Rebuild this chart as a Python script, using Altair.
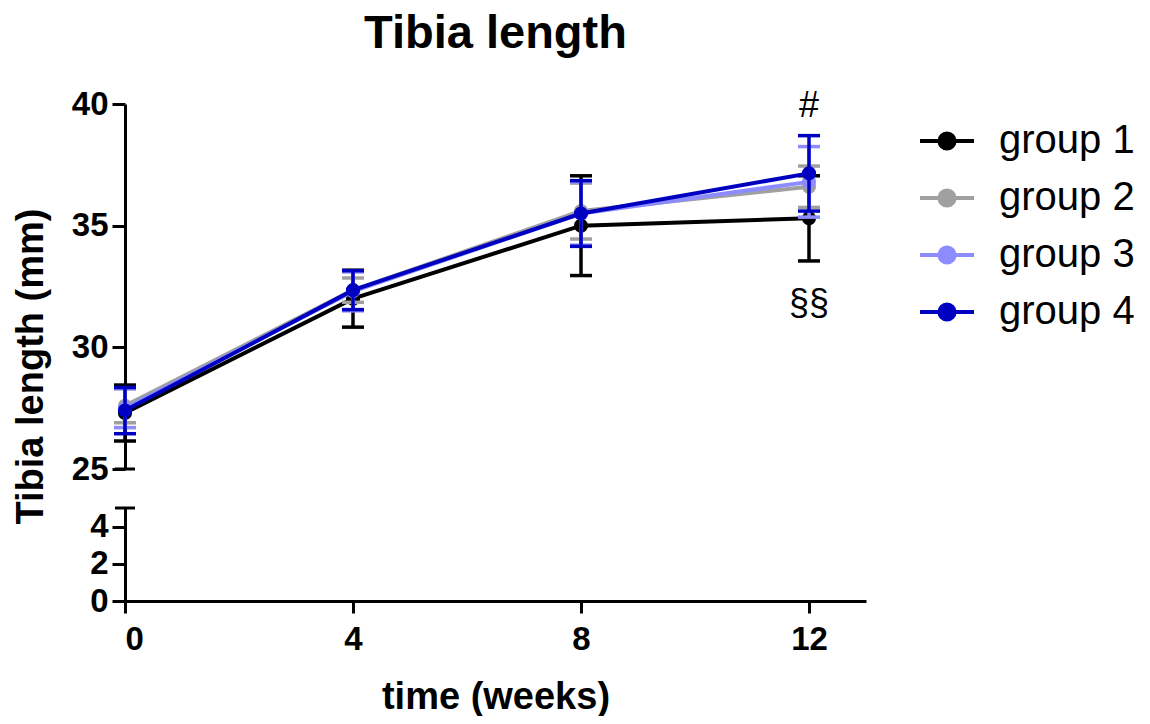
import altair as alt
import pandas as pd

# ---------------- data ----------------
weeks = [0, 4, 8, 12]
groups = ["group 1", "group 2", "group 3", "group 4"]
colors = ["#000000", "#a0a0a0", "#8c8cff", "#0000c0"]

g1_mean = [27.3, 32.0, 35.0, 35.3]
g1_sd = [1.15, 1.17, 2.05, 1.75]
g2_mean = [27.6, 32.35, 35.6, 36.6]
g2_sd = [0.7, 0.5, 1.15, 0.85]
g3_mean = [27.5, 32.3, 35.5, 36.8]
g3_sd = [0.8, 0.8, 1.3, 1.45]
g4_mean = [27.4, 32.35, 35.5, 37.15]
g4_sd = [0.95, 0.8, 1.35, 1.55]

annot_text = ["#", "§§"]
annot_week = [12, 12]
annot_value = [39.9, 31.8]

x_ticks = [0, 4, 8, 12]
x_domain = [0, 13]
y_top_ticks = [25, 30, 35, 40]
y_top_domain = [25, 40]
y_bottom_ticks = [0, 2, 4]
y_bottom_domain = [0, 5]

FONT = "Liberation Sans"

means = [g1_mean, g2_mean, g3_mean, g4_mean]
sds = [g1_sd, g2_sd, g3_sd, g4_sd]
rows = []
for gi, g in enumerate(groups):
    for w, m, s in zip(weeks, means[gi], sds[gi]):
        rows.append({"group": g, "week": w, "value": m, "lo": m - s, "hi": m + s})
df = pd.DataFrame(rows)
annot_df = pd.DataFrame({"week": annot_week, "value": annot_value, "label": annot_text})
break_top_df = pd.DataFrame({"week": [x_domain[0]], "value": [y_top_domain[0]]})
break_bot_df = pd.DataFrame({"week": [x_domain[0]], "value": [y_bottom_domain[1]]})

# ---------------- encodings ----------------
x_top = alt.X("week:Q", scale=alt.Scale(domain=x_domain, nice=False, zero=False), axis=None)

y_axis_top = alt.Axis(
    values=y_top_ticks, grid=False, domainColor="black", domainWidth=3,
    tickColor="black", tickWidth=3, tickSize=13, labelFontSize=33,
    labelFontWeight="bold", labelFont=FONT, labelColor="black", labelPadding=4,
    title="Tibia length (mm)", titleFontSize=38, titleFont=FONT,
    titleFontWeight="bold", titleColor="black", titleAngle=270,
    titleX=-94, titleY=262, titleAlign="center", titleBaseline="middle",
)
y_scale_top = alt.Scale(domain=y_top_domain, nice=False, zero=False)

legend_symbol = "M-1,0L1,0M-0.28,0A0.28,0.28,0,1,0,0.28,0A0.28,0.28,0,1,0,-0.28,0Z"
color = alt.Color(
    "group:N",
    scale=alt.Scale(domain=groups, range=colors),
    legend=alt.Legend(
        title=None, orient="none", legendX=793, legendY=8,
        symbolType=legend_symbol, symbolSize=2916, symbolStrokeWidth=4,
        symbolOpacity=1,
        labelFontSize=40, labelFont=FONT, labelColor="black", labelOffset=23,
        rowPadding=8, labelLimit=300,
    ),
)

CAP = 22
layers = []
for g in groups:
    base = alt.Chart(df).transform_filter(alt.datum.group == g)
    layers.append(base.mark_rule(strokeWidth=3.5).encode(
        x=x_top, y=alt.Y("lo:Q", scale=y_scale_top, axis=y_axis_top), y2="hi:Q", color=color))
    layers.append(base.mark_tick(orient="horizontal", size=CAP, thickness=3.5, opacity=1).encode(
        x=x_top, y=alt.Y("lo:Q", scale=y_scale_top, axis=y_axis_top), color=color))
    layers.append(base.mark_tick(orient="horizontal", size=CAP, thickness=3.5, opacity=1).encode(
        x=x_top, y=alt.Y("hi:Q", scale=y_scale_top, axis=y_axis_top), color=color))
    layers.append(base.mark_line(strokeWidth=4).encode(
        x=x_top, y=alt.Y("value:Q", scale=y_scale_top, axis=y_axis_top), color=color))
    layers.append(base.mark_circle(size=200, opacity=1).encode(
        x=x_top, y=alt.Y("value:Q", scale=y_scale_top, axis=y_axis_top), color=color))

annot = alt.Chart(annot_df).mark_text(fontSize=36, font=FONT, color="black").encode(
    x=x_top, y=alt.Y("value:Q", scale=y_scale_top, axis=y_axis_top), text="label:N")
brk_top = alt.Chart(break_top_df).mark_tick(
    orient="horizontal", size=20, thickness=3, color="black", opacity=1).encode(
    x=x_top, y=alt.Y("value:Q", scale=y_scale_top, axis=y_axis_top))

top = alt.layer(*layers, annot, brk_top).properties(
    width=741, height=365,
    title=alt.TitleParams("Tibia length", fontSize=47, fontWeight="bold", font=FONT,
                          color="black", anchor="middle", offset=30),
)

# bottom (broken) segment of the y axis, carrying the x axis
x_bot = alt.X(
    "week:Q", scale=alt.Scale(domain=x_domain, nice=False, zero=False),
    axis=alt.Axis(
        values=x_ticks, grid=False, domainColor="black", domainWidth=3,
        tickColor="black", tickWidth=3, tickSize=12, labelFontSize=33,
        labelFontWeight="bold", labelFont=FONT, labelColor="black", labelPadding=10,
        title="time (weeks)", titleFontSize=38, titleFont=FONT,
        titleFontWeight="bold", titleColor="black", titlePadding=22,
    ),
)
y_bot = alt.Y(
    "value:Q", scale=alt.Scale(domain=y_bottom_domain, nice=False, zero=False),
    axis=alt.Axis(
        values=y_bottom_ticks, grid=False, domainColor="black", domainWidth=3,
        tickColor="black", tickWidth=3, tickSize=13, labelFontSize=33,
        labelFontWeight="bold", labelFont=FONT, labelColor="black", labelPadding=4,
        title=None,
    ),
)
bottom = alt.Chart(break_bot_df).mark_tick(
    orient="horizontal", size=20, thickness=3, color="black", opacity=1).encode(
    x=x_bot, y=y_bot).properties(width=741, height=93)

chart = alt.vconcat(top, bottom, spacing=39, bounds="flush").properties(
    padding={"left": 12, "top": 10, "right": 0, "bottom": 0},
    background="white",
).configure_view(stroke=None)

chart.save("out.html", embed_options={"renderer": "svg", "actions": False})
